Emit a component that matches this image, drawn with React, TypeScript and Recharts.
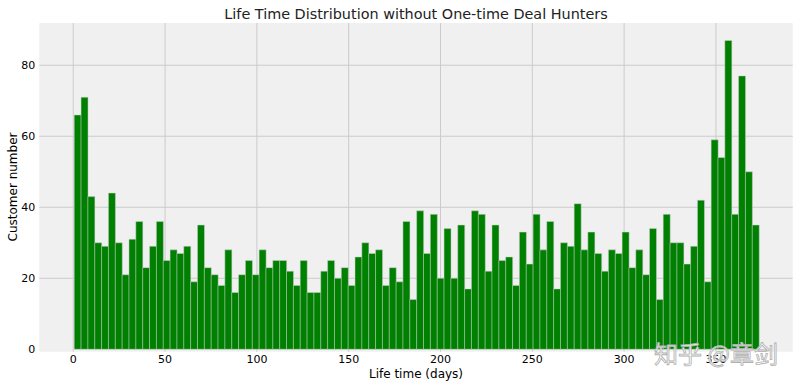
import React from 'react';
import { BarChart, Bar, XAxis, YAxis, CartesianGrid } from 'recharts';

const counts = [
  66, 71, 43, 30, 29, 44, 30, 21, 31, 36,
  23, 29, 36, 25, 28, 27, 29, 19, 35, 23,
  21, 18, 28, 16, 21, 25, 21, 28, 23, 25,
  25, 22, 18, 25, 16, 16, 22, 25, 20, 23,
  18, 26, 30, 27, 28, 18, 23, 19, 36, 14,
  39, 27, 38, 20, 34, 20, 35, 17, 39, 38,
  22, 35, 25, 26, 18, 33, 24, 38, 28, 36,
  17, 30, 29, 41, 28, 33, 27, 22, 28, 27,
  33, 23, 28, 21, 34, 14, 38, 30, 30, 24,
  29, 42, 19, 59, 54, 87, 38, 77, 50, 35,
];
const binStart = 0.5;
const binWidth = 3.73;
const xTicks = [0, 50, 100, 150, 200, 250, 300, 350];
const yTicks = [0, 20, 40, 60, 80];
const yGrid = [20, 40, 60, 80];
const title = 'Life Time Distribution without One-time Deal Hunters';
const xLabel = 'Life time (days)';
const yLabel = 'Customer number';
const watermark = '知乎 @章剑';

const data = counts.map((c, i) => ({ x: binStart + binWidth * (i + 0.5), count: c }));

const FONT = '"DejaVu Sans", sans-serif';

export default function App() {
  return (
    <div style={{ position: 'absolute', left: 0, top: 0, width: 799, height: 388, background: '#ffffff', fontFamily: FONT }}>
      <BarChart
        width={799}
        height={388}
        data={data}
        margin={{ top: 23, right: 6.3, bottom: 0, left: 0 }}
        barCategoryGap={0}
        barGap={0}
      >
        <CartesianGrid
          fill="#f0f0f0"
          fillOpacity={1}
          stroke="#cbcbcb"
          strokeWidth={1}
          horizontalValues={yGrid}
          verticalValues={xTicks}
        />
        <XAxis
          type="number"
          dataKey="x"
          domain={[-18.5, 391.8]}
          allowDataOverflow
          ticks={xTicks}
          tickLine={false}
          axisLine={false}
          tickSize={0}
          tickMargin={3}
          height={36.3}
          tick={{ fill: '#000000', fontSize: 11, fontFamily: FONT }}
        />
        <YAxis
          type="number"
          domain={[-0.68, 91.9]}
          allowDataOverflow
          ticks={yTicks}
          tickLine={false}
          axisLine={false}
          tickSize={0}
          tickMargin={4}
          width={39.3}
          tick={{ fill: '#000000', fontSize: 11, fontFamily: FONT }}
        />
        <Bar dataKey="count" fill="#008000" stroke="#cfcfcf" strokeWidth={0.5} isAnimationActive={false} />
      </BarChart>
      <svg width={799} height={388} style={{ position: 'absolute', left: 0, top: 0, pointerEvents: 'none' }}>
        <text x={416} y={18.5} textAnchor="middle" fontSize={14.4} fontFamily={FONT} fill="#222222">{title}</text>
        <text x={416} y={377.5} textAnchor="middle" fontSize={12} fontFamily={FONT} fill="#000000">{xLabel}</text>
        <text x={16.7} y={187} textAnchor="middle" fontSize={12} fontFamily={FONT} fill="#000000" transform="rotate(-90 16.7 187)">{yLabel}</text>
        <text x={716} y={363} textAnchor="middle" fontSize={24} fontFamily='"Noto Sans CJK SC", sans-serif' fill="#ffffff" fillOpacity={0.85} stroke="#b0b0b0" strokeWidth={0.8}>{watermark}</text>
      </svg>
    </div>
  );
}
